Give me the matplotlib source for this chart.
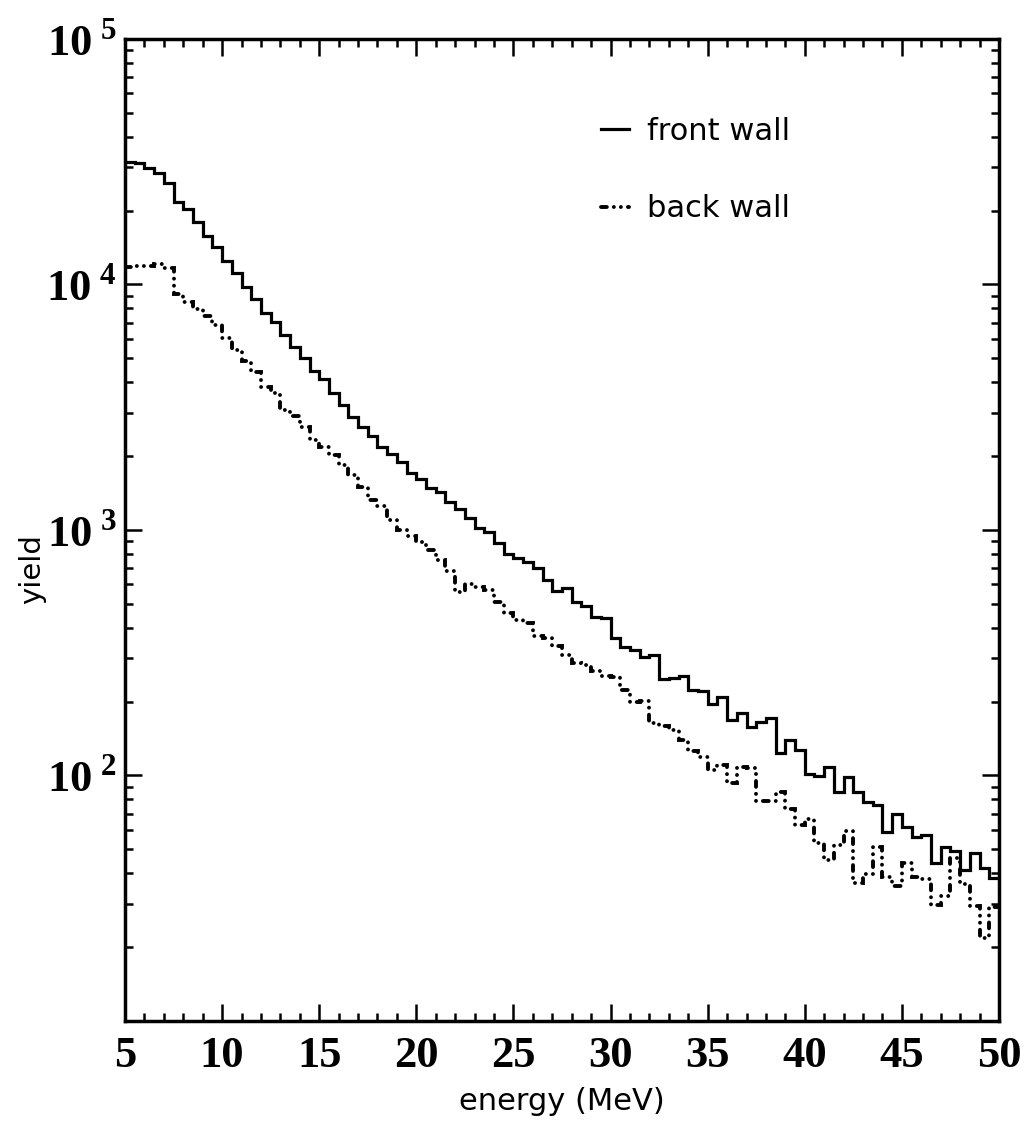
import numpy as np
import matplotlib
matplotlib.use("Agg")
import matplotlib.pyplot as plt
from matplotlib.ticker import FuncFormatter, LogLocator, NullFormatter, MultipleLocator
from matplotlib.lines import Line2D

# 0.5 MeV bins from 5 to 50 MeV
bin_edges = np.arange(5.0, 50.25, 0.5)

front_wall = [
    31500, 31300, 29800, 28500, 25900, 21700, 20300, 18000, 15800, 14200,
    12500, 11100, 9770, 8730, 7650, 7040, 6230, 5560, 5020, 4440,
    4120, 3610, 3230, 2890, 2630, 2420, 2180, 2040, 1890, 1710,
    1610, 1480, 1430, 1300, 1220, 1120, 1020, 981, 885, 798,
    769, 741, 700, 626, 564, 580, 509, 490, 442, 438,
    363, 334, 324, 304, 310, 247, 250, 254, 223, 220,
    196, 209, 168, 180, 158, 165, 171, 123, 140, 127,
    101, 99.5, 108, 85.7, 98.6, 85.7, 78.0, 75.8, 58.9, 69.7,
    61.7, 56.2, 57.2, 44.0, 51.1, 49.3, 41.2, 48.3, 42.0, 38.2,
]

back_wall = [
    11800, 11900, 11900, 12100, 11700, 9150, 8490, 7950, 7440, 6840,
    6060, 5410, 4880, 4400, 3820, 3610, 3080, 2910, 2630, 2330,
    2180, 2020, 1840, 1670, 1500, 1330, 1250, 1100, 1000, 945,
    894, 829, 755, 681, 559, 603, 586, 570, 509, 459,
    430, 418, 370, 363, 337, 310, 287, 282, 267, 254,
    252, 223, 199, 201, 164, 159, 153, 140, 126, 119,
    105, 110, 93.2, 108, 107, 78.7, 78.7, 85.7, 73.0, 62.9,
    66.5, 53.1, 45.3, 52.1, 59.4, 36.5, 39.7, 51.1, 38.6, 35.5,
    44.0, 38.6, 37.9, 29.7, 32.3, 46.1, 36.1, 29.4, 21.8, 29.1,
]

labels = ["front wall", "back wall"]
x_ticks = [5, 10, 15, 20, 25, 30, 35, 40, 45, 50]

plt.rcParams["mathtext.fontset"] = "custom"
plt.rcParams["mathtext.rm"] = "Liberation Serif"
plt.rcParams["mathtext.bf"] = "Liberation Serif:bold"

fig = plt.figure(figsize=(10.25, 11.34), dpi=100)
ax = fig.add_axes([0.12195, 0.09965, 0.85268, 0.86596])

lw = 2.3
lw_back = 2.8
dash_dot_dot = (0, (1.5, 1.8, 0.01, 1.8, 0.01, 1.8))

ax.stairs(front_wall, bin_edges, baseline=None, color="black", lw=lw)
ax.stairs(back_wall, bin_edges, baseline=None, color="black", lw=lw_back,
          linestyle=dash_dot_dot, capstyle="round")

ax.set_yscale("log")
ax.set_xlim(5, 50)
ax.set_ylim(10, 1e5)

# ticks on all four sides, pointing inward
ax.set_xticks(x_ticks)
ax.xaxis.set_minor_locator(MultipleLocator(1))
ax.yaxis.set_major_locator(LogLocator(base=10))
ax.yaxis.set_minor_locator(LogLocator(base=10, subs=range(2, 10)))
ax.yaxis.set_minor_formatter(NullFormatter())


def pow_label(v, pos):
    if v < 50:
        return ""
    return r"$\mathbf{10}^{\;\mathbf{%d}}$" % round(np.log10(v))


ax.yaxis.set_major_formatter(FuncFormatter(pow_label))

ax.tick_params(which="both", direction="in", top=True, right=True, width=1.8)
ax.tick_params(which="major", length=12)
ax.tick_params(which="minor", length=6)
ax.tick_params(axis="x", which="major", pad=11)
ax.tick_params(axis="y", which="major", pad=6, labelsize=32)

for lab in ax.get_xticklabels():
    lab.set_fontfamily("Liberation Serif")
    lab.set_fontweight("bold")
    lab.set_fontsize(32)

for sp in ax.spines.values():
    sp.set_linewidth(2.5)

ax.set_xlabel("energy (MeV)", fontsize=22, family="DejaVu Sans")
ax.xaxis.set_label_coords(0.5, -0.067)
ax.set_ylabel("yield", fontsize=21, family="DejaVu Sans")
ax.yaxis.set_label_coords(-0.09, 0.46)

handles = [
    Line2D([], [], color="black", lw=lw),
    Line2D([], [], color="black", lw=lw_back, linestyle=dash_dot_dot,
           dash_capstyle="round"),
]
ax.legend(handles, labels, loc="upper left", bbox_to_anchor=(0.545, 0.921),
          frameon=False, handlelength=0.9, handletextpad=0.6,
          labelspacing=1.6, borderpad=0, borderaxespad=0,
          prop={"family": "DejaVu Sans", "size": 22})

fig.savefig("out.png", dpi=100)
